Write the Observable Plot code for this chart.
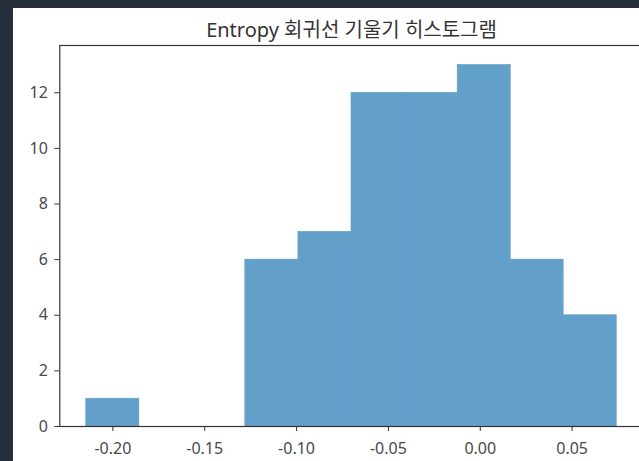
<!DOCTYPE html>
<html><head><meta charset="utf-8">
<script src="https://cdn.jsdelivr.net/npm/d3@7"></script>
<script src="https://cdn.jsdelivr.net/npm/@observablehq/plot@0.6"></script>
<style>
html,body{margin:0;padding:0;background:#262f3c;width:639px;height:461px;overflow:hidden}
#chart{position:absolute;left:13px;top:8px;width:626px;height:453px;background:#fff;overflow:hidden}
</style></head><body><div id="chart"></div>
<script>
const title = "Entropy 회귀선 기울기 히스토그램";
const binEdges = [-0.2145, -0.1856, -0.1567, -0.1279, -0.0990, -0.0701, -0.0412, -0.0123, 0.0166, 0.0454, 0.0743];
const counts = [1, 0, 0, 6, 7, 12, 12, 13, 6, 4];
const xTicks = [-0.20, -0.15, -0.10, -0.05, 0.00, 0.05];
const yTicks = [0, 2, 4, 6, 8, 10, 12];
const bins = counts.map((c, i) => ({x1: binEdges[i], x2: binEdges[i + 1], count: c}));
const font = '"Noto Sans","Noto Sans CJK KR",sans-serif';
const plot = Plot.plot({
  width: 626, height: 453,
  marginLeft: 46.3, marginRight: -3.7, marginTop: 37, marginBottom: 35,
  style: {fontFamily: font, fontSize: "16px", color: "#333", background: "transparent", overflow: "visible"},
  x: {domain: [-0.2289, 0.0887]},
  y: {domain: [0, 13.7]},
  marks: [
    Plot.rectY(bins, {x1: "x1", x2: "x2", y: "count", fill: "#62a0ca", stroke: "#62a0ca", strokeWidth: 0.6}),
    Plot.frame({stroke: "#333", strokeWidth: 1.2}),
    Plot.axisX({ticks: xTicks, tickFormat: d => d.toFixed(2), tickSize: 5, tickPadding: 11, label: null, stroke: "#333", fill: "#4a4a4a"}),
    Plot.axisY({ticks: yTicks, tickSize: 5, tickPadding: 7, label: null, stroke: "#333", fill: "#4a4a4a"}),
    Plot.text([title], {text: d => d, frameAnchor: "top", dy: -9, lineAnchor: "bottom", fontSize: 20, fill: "#333"})
  ]
});
document.getElementById("chart").appendChild(plot);
</script></body></html>
